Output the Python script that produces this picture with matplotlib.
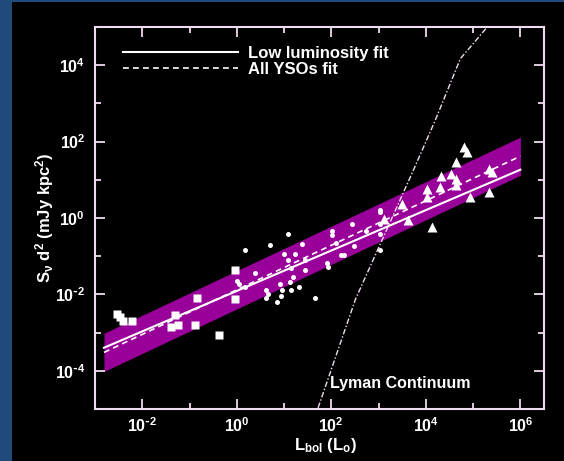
import numpy as np
import matplotlib.pyplot as plt
from matplotlib.patches import Rectangle
from matplotlib.ticker import FuncFormatter

plt.rcParams['font.family'] = ['Liberation Sans', 'DejaVu Sans']
plt.rcParams['font.weight'] = 'bold'
plt.rcParams['mathtext.default'] = 'regular'

FG = '#f0dcf0'
BAND = '#990099'

# log10 L_bol (Lsun) and log10 S d^2 (mJy kpc^2)
sq_logL = [-2.54, -2.47, -2.41, -2.22, -1.31, -1.39, -1.24, -0.88, -0.84, -0.38, -0.04, -0.04]
sq_logS = [-2.52, -2.60, -2.70, -2.70, -2.54, -2.86, -2.80, -2.80, -2.10, -3.07, -1.35, -2.13]

ci_logL = [0.18, 0.71, 1.09, 0.39, 0.01, 0.04, 0.18, 0.62, 0.65, 0.61, 0.85, 0.94, 0.96, 1.14,
           1.31, 1.13, 0.92, 1.19, 1.15, 1.00, 1.09, 1.24, 1.38, 1.45, 1.45, 1.65, 1.91, 1.92,
           2.01, 2.01, 2.10, 2.20, 2.26, 2.43, 2.49, 2.74, 3.02, 3.02, 3.04, 3.02, 3.02]
ci_logS = [-0.85, -0.70, -0.43, -1.43, -1.65, -1.74, -1.80, -1.89, -2.00, -2.10, -2.21, -2.04, -1.89, -1.89,
           -1.80, -1.68, -1.74, -1.54, -1.30, -0.94, -1.09, -0.93, -0.68, -1.09, -1.35, -2.10, -1.17, -1.29,
           -0.33, -0.44, -0.65, -0.98, -0.96, -0.16, -0.74, -0.34, 0.20, 0.15, -0.16, -0.43, -0.83]

tr_logL = [3.12, 3.50, 3.62, 4.13, 4.03, 4.03, 4.31, 4.33, 4.53, 4.63, 4.63, 4.63, 4.93, 4.80, 4.87,
           5.33, 5.39, 5.33]
tr_logS = [-0.02, 0.36, -0.04, -0.23, 0.76, 0.55, 0.82, 1.10, 1.15, 1.46, 1.02, 0.87, 0.54, 1.86, 1.72,
           1.28, 1.20, 0.69]

# fits: log S = a + b log L
fit_range = [-2.81, 6.0]
low_a, low_b = -1.91, 0.529
all_a, all_b = -1.88, 0.583
band_halfwidth = 0.5

# Lyman continuum curve
lyc_logL = [1.72, 2.51, 3.74, 4.20, 4.73, 5.28]
lyc_logS = [-4.97, -2.13, 1.26, 2.56, 4.17, 4.97]


def pow10(v, pos):
    e = int(round(np.log10(v)))
    s = str(abs(e))
    if e < 0:
        s = r'\text{-}' + s
    return r'$10^{' + s + '}$'


fig = plt.figure(figsize=(5.64, 4.61), dpi=100, facecolor='black')
fig.patches.append(Rectangle((0, 0), 12 / 564, 1, transform=fig.transFigure,
                             facecolor='#1f4a7a', edgecolor='none', zorder=-1))
fig.patches.append(Rectangle((0, 1 - 2 / 461), 1, 2 / 461, transform=fig.transFigure,
                             facecolor='#1f4a7a', edgecolor='none', zorder=-1))

ax = fig.add_axes([95 / 564, 1 - 409 / 461, 449 / 564, 382 / 461])
ax.set_facecolor('black')
ax.set_xscale('log')
ax.set_yscale('log')
ax.set_xlim(1e-3, 10 ** 6.5)
ax.set_ylim(1e-5, 1e5)

lx = np.linspace(fit_range[0], fit_range[1], 50)
L = 10 ** lx
ax.fill_between(L, 10 ** (all_a + all_b * lx - band_halfwidth), 10 ** (all_a + all_b * lx + band_halfwidth),
                color=BAND, lw=0, zorder=1)
ax.plot(L, 10 ** (low_a + low_b * lx), color='white', lw=1.5, zorder=3, label='Low luminosity fit')
ax.plot(L, 10 ** (all_a + all_b * lx), color='white', lw=1.2, ls=(0, (3.5, 2.5)), zorder=3,
        label='All YSOs fit')

ax.plot(10 ** np.array(sq_logL), 10 ** np.array(sq_logS), 's', color='white', ms=6, mec='none', zorder=4)
ax.plot(10 ** np.array(ci_logL), 10 ** np.array(ci_logS), 'o', color='white', ms=3.6, mec='none', zorder=4)
ax.plot(10 ** np.array(tr_logL), 10 ** np.array(tr_logS), '^', color='white', ms=7.5, mec='none', zorder=4)

ax.plot(10 ** np.array(lyc_logL), 10 ** np.array(lyc_logS), color=FG, lw=1,
        ls=(0, (4, 1.5, 1, 1.5)), zorder=2)
ax.text(10 ** 1.98, 10 ** -4.45, 'Lyman Continuum', color='white', fontsize=11.5, fontweight='bold')

leg = ax.legend(loc='upper left', bbox_to_anchor=(0.03, 0.99), frameon=False, handlelength=6.9,
                fontsize=12, labelspacing=0.05, handletextpad=0.6)
for t in leg.get_texts():
    t.set_color('white')

ax.set_xticks([1e-2, 1, 1e2, 1e4, 1e6])
ax.set_xticks([1e-1, 1e1, 1e3, 1e5], minor=True)
ax.set_yticks([1e-4, 1e-2, 1, 1e2, 1e4])
ax.set_yticks([1e-3, 1e-1, 1e1, 1e3], minor=True)
ax.xaxis.set_major_formatter(FuncFormatter(pow10))
ax.yaxis.set_major_formatter(FuncFormatter(pow10))
ax.xaxis.set_minor_formatter(plt.NullFormatter())
ax.yaxis.set_minor_formatter(plt.NullFormatter())
ax.tick_params(which='both', direction='in', top=True, right=True, colors=FG, width=1.3,
               labelcolor='white', labelsize=11.5)
ax.tick_params(which='major', length=7, pad=7)
ax.tick_params(axis='x', which='major', pad=5)
ax.tick_params(which='minor', length=4)
for s in ax.spines.values():
    s.set_color(FG)
    s.set_linewidth(1.5)

fig.text(45 / 564, 1 - 218 / 461, r'S$_\nu$ d$^2$ (mJy kpc$^2$)', color='white', fontsize=12,
         fontweight='bold', rotation=90, ha='center', va='center')
fig.text(325 / 564, 1 - 445 / 461, r'L$_{bol}$ (L$_o$)', color='white', fontsize=12,
         fontweight='bold', ha='center', va='center')

fig.savefig('out.png', dpi=100, facecolor='black')
